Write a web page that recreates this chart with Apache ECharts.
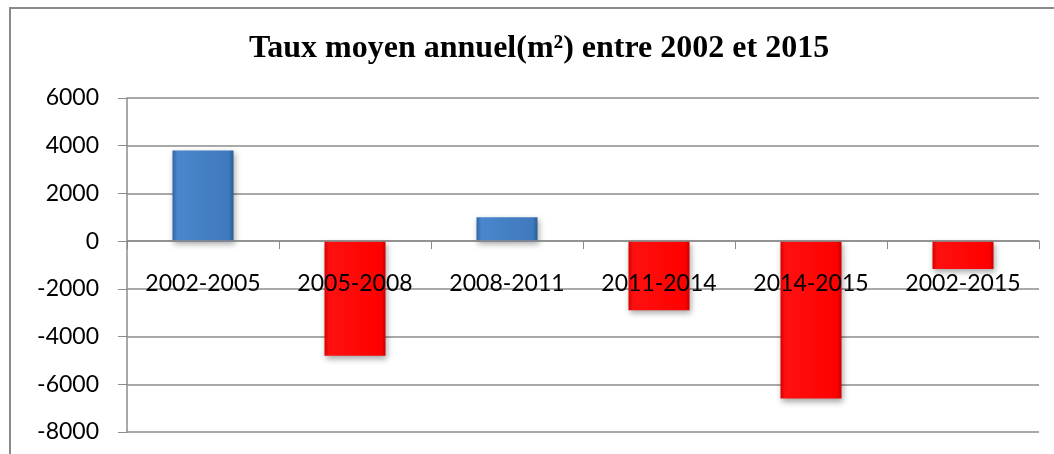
<!DOCTYPE html>
<html>
<head>
<meta charset="utf-8">
<script src="https://cdn.jsdelivr.net/npm/echarts@6/dist/echarts.min.js"></script>
<style>
  html, body { margin: 0; padding: 0; background: #fff; }
  #chart { width: 1054px; height: 454px; }
</style>
</head>
<body>
<div id="chart"></div>
<script>
// periodes et taux moyens annuels (m²)
var periodes = ['2002-2005', '2005-2008', '2008-2011', '2011-2014', '2014-2015', '2002-2015'];
var taux = [3800, -4800, 1000, -2900, -6600, -1170];
var yTicks = [-8000, -6000, -4000, -2000, 0, 2000, 4000, 6000];

var myChart = echarts.init(document.getElementById('chart'));

// plot box, the category axis is moved up onto the zero line
var gridTop = 98, gridBottom = 22, plotH = 454 - gridTop - gridBottom;
var zeroShift = -plotH * (0 - yTicks[0]) / (yTicks[yTicks.length - 1] - yTicks[0]);

// bevel-ish fill, like the office chart style
function fill(v) {
  if (v >= 0) {
    return new echarts.graphic.LinearGradient(0, 0, 1, 0, [
      { offset: 0, color: '#2f66a8' },
      { offset: 0.08, color: '#4a86cc' },
      { offset: 0.92, color: '#3f79be' },
      { offset: 1, color: '#2b5d9a' }
    ]);
  }
  return new echarts.graphic.LinearGradient(0, 0, 1, 0, [
    { offset: 0, color: '#d80000' },
    { offset: 0.08, color: '#ff1010' },
    { offset: 0.92, color: '#ff0000' },
    { offset: 1, color: '#cc0000' }
  ]);
}

var option = {
  animation: false,
  title: {
    text: 'Taux moyen annuel(m²) entre 2002 et 2015',
    left: 539,
    textAlign: 'center',
    top: 33,
    padding: 0,
    textStyle: {
      fontFamily: '"Liberation Serif", "Times New Roman", serif',
      fontWeight: 'bold',
      fontSize: 32,
      color: '#000'
    }
  },
  graphic: [{
    type: 'rect',
    shape: { x: 10, y: 8, width: 1100, height: 500 },
    style: { fill: 'none', stroke: '#8a8a8a', lineWidth: 2 },
    silent: true
  }],
  grid: { left: 127, right: 15, top: gridTop, bottom: gridBottom, containLabel: false, outerBoundsMode: 'none' },
  xAxis: {
    type: 'category',
    data: periodes,
    z: 5,
    offset: zeroShift,
    axisLine: { onZero: false, lineStyle: { color: '#8c8c8c', width: 1.5 } },
    axisTick: { show: true, alignWithLabel: false, length: 8, lineStyle: { color: '#8c8c8c' } },
    axisLabel: {
      margin: 31,
      fontFamily: 'Lato, "Open Sans", sans-serif',
      fontSize: 23,
      color: '#000'
    }
  },
  yAxis: {
    type: 'value',
    min: yTicks[0],
    max: yTicks[yTicks.length - 1],
    interval: 2000,
    axisLine: { show: true, lineStyle: { color: '#8c8c8c', width: 1.5 } },
    axisTick: { show: true, length: 9, lineStyle: { color: '#8c8c8c' } },
    splitLine: { show: true, lineStyle: { color: '#8c8c8c', width: 1.5 } },
    axisLabel: {
      margin: 28,
      formatter: function (v) { return String(v); },
      fontFamily: 'Lato, "Open Sans", sans-serif',
      fontSize: 23,
      color: '#000'
    }
  },
  series: [{
    type: 'bar',
    data: taux,
    barWidth: 61,
    itemStyle: {
      color: function (p) { return fill(p.value); },
      shadowColor: 'rgba(0,0,0,0.35)',
      shadowBlur: 6,
      shadowOffsetY: 3,
      shadowOffsetX: 1
    }
  }]
};

myChart.setOption(option);
window.addEventListener('resize', function () { myChart.resize(); });
</script>
</body>
</html>
